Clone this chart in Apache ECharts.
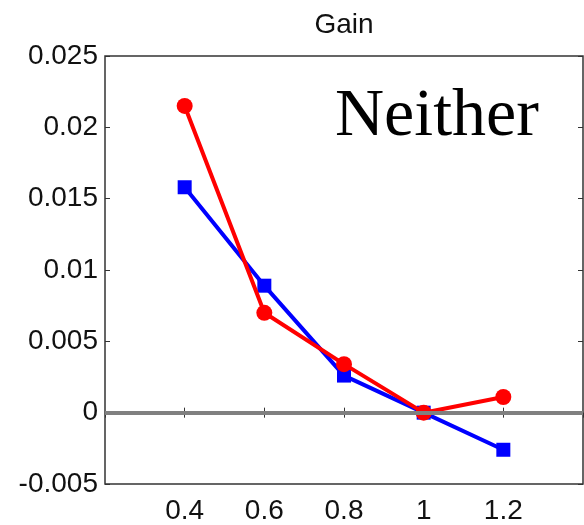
<!DOCTYPE html>
<html>
<head>
<meta charset="utf-8">
<script src="https://cdn.jsdelivr.net/npm/echarts@6/dist/echarts.min.js"></script>
<style>html,body{margin:0;padding:0;background:#fff;}#c{width:584px;height:525px;}</style>
</head>
<body>
<div id="c"></div>
<script>
var xValues = [0.4, 0.6, 0.8, 1.0, 1.2];
var blueValues = [0.0158, 0.0089, 0.0026, 0.0, -0.0026];
var redValues = [0.0215, 0.0070, 0.0034, 0.0, 0.0011];
var xTickLabels = ['0.4', '0.6', '0.8', '1', '1.2'];
var yTickLabels = ['-0.005', '0', '0.005', '0.01', '0.015', '0.02', '0.025'];
var titleText = 'Gain';
var annotation = 'Neither';

function pairs(xs, ys) { return xs.map(function (x, i) { return [x, ys[i]]; }); }

var frameColor = '#333333';
var labelFont = { color: '#111', fontFamily: 'Liberation Sans, Arial, sans-serif', fontSize: 28 };

function xLabel(v) {
  var r = Math.round(v * 10) / 10;
  for (var i = 0; i < xValues.length; i++) if (Math.abs(xValues[i] - r) < 1e-9) return xTickLabels[i];
  return '';
}
function yLabel(v) {
  var idx = Math.round((v + 0.005) / 0.005);
  return yTickLabels[idx] !== undefined ? yTickLabels[idx] : '';
}

var chart = echarts.init(document.getElementById('c'), null, { renderer: 'canvas' });
chart.setOption({
  animation: false,
  backgroundColor: '#fff',
  title: {
    text: titleText, left: 344, top: 11, textAlign: 'center', padding: 0,
    textStyle: { color: '#111', fontFamily: 'Liberation Sans, Arial, sans-serif', fontSize: 28, fontWeight: 'normal' }
  },
  grid: { left: 105, right: 1, top: 56, bottom: 38, show: true, borderColor: frameColor, borderWidth: 1.5, backgroundColor: '#fff' },
  xAxis: [{
    type: 'value', min: 0.2, max: 1.4, interval: 0.2, position: 'bottom',
    axisLine: { show: false }, splitLine: { show: false },
    axisTick: { show: true, inside: true, length: 5, lineStyle: { color: frameColor, width: 1 } },
    axisLabel: Object.assign({ margin: 13, formatter: xLabel, showMinLabel: false, showMaxLabel: false }, labelFont)
  }, {
    type: 'value', min: 0.2, max: 1.4, interval: 0.2, position: 'top',
    axisLine: { show: false }, splitLine: { show: false },
    axisTick: { show: true, inside: true, length: 5, lineStyle: { color: frameColor, width: 1 } },
    axisLabel: { show: false }
  }],
  yAxis: [{
    type: 'value', min: -0.005, max: 0.025, interval: 0.005, position: 'left',
    axisLine: { show: false }, splitLine: { show: false },
    axisTick: { show: true, inside: true, length: 5, lineStyle: { color: frameColor, width: 1 } },
    axisLabel: Object.assign({ margin: 7, formatter: yLabel }, labelFont)
  }, {
    type: 'value', min: -0.005, max: 0.025, interval: 0.005, position: 'right',
    axisLine: { show: false }, splitLine: { show: false },
    axisTick: { show: true, inside: true, length: 5, lineStyle: { color: frameColor, width: 1 } },
    axisLabel: { show: false }
  }],
  graphic: [{
    type: 'text', left: 335, top: 83, z: 100,
    style: { text: annotation, fill: '#000', font: '68px "Liberation Serif", "Times New Roman", serif' }
  }],
  series: [{
    type: 'line', data: [], z: 1, silent: true,
    markLine: {
      silent: true, symbol: 'none', label: { show: false },
      lineStyle: { color: '#808080', width: 4, type: 'solid' },
      data: [{ yAxis: 0 }]
    }
  }, {
    type: 'line', z: 3, data: pairs(xValues, blueValues),
    symbol: 'rect', symbolSize: 14,
    lineStyle: { color: '#0000ff', width: 4 },
    itemStyle: { color: '#0000ff' }
  }, {
    type: 'line', z: 4, data: pairs(xValues, redValues),
    symbol: 'circle', symbolSize: 16,
    lineStyle: { color: '#ff0000', width: 4 },
    itemStyle: { color: '#ff0000' }
  }]
});
</script>
</body>
</html>
